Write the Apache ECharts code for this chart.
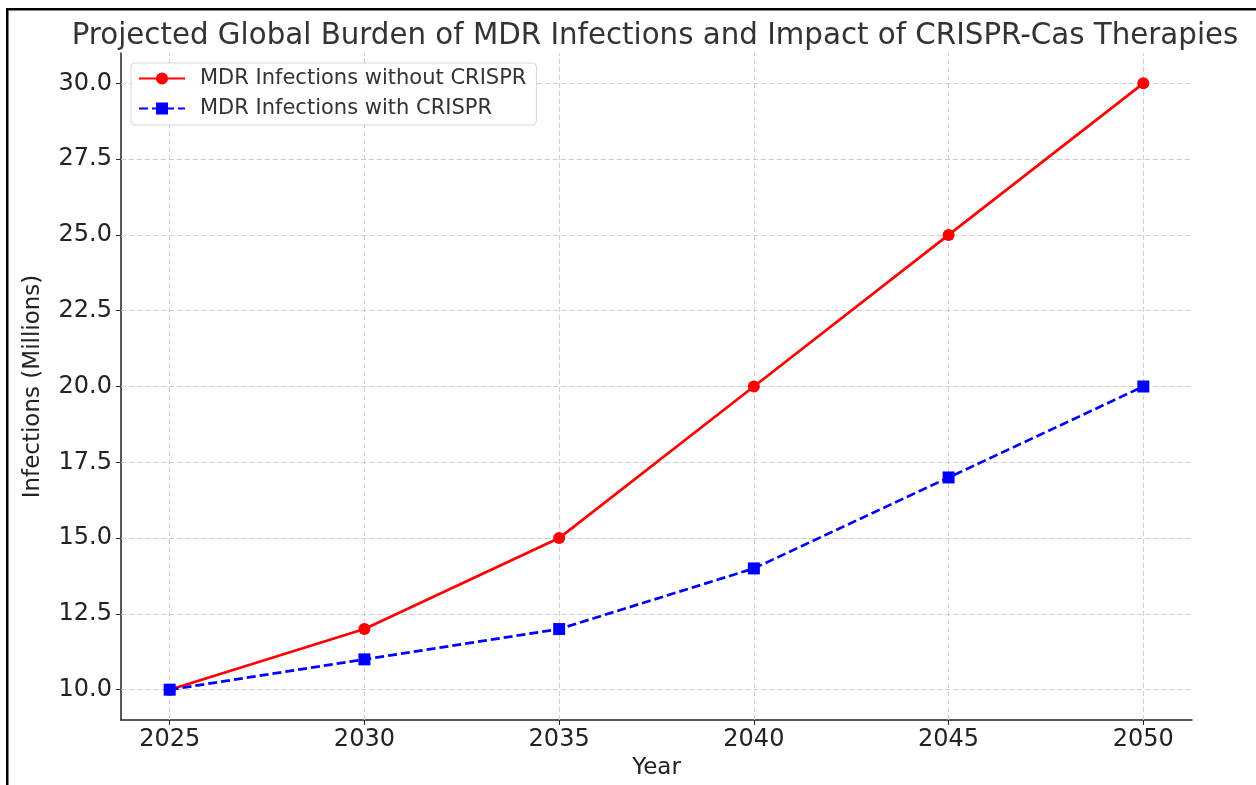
<!DOCTYPE html>
<html>
<head>
<meta charset="utf-8">
<title>MDR Infections and CRISPR-Cas</title>
<script src="https://cdn.jsdelivr.net/npm/echarts@6/dist/echarts.min.js"></script>
<style>
  html, body { margin: 0; padding: 0; background: #fff; }
  #chart { width: 1256px; height: 785px; }
</style>
</head>
<body>
<div id="chart"></div>
<script>
'use strict';

// data
var years = [2025, 2030, 2035, 2040, 2045, 2050];
var withoutCrispr = [10, 12, 15, 20, 25, 30];
var withCrispr = [10, 11, 12, 14, 17, 20];
var yTicks = [10.0, 12.5, 15.0, 17.5, 20.0, 22.5, 25.0, 27.5, 30.0];
var xTicks = [2025, 2030, 2035, 2040, 2045, 2050];

var font = 'DejaVu Sans';

function pairs(xs, ys) {
    var out = [];
    for (var i = 0; i < xs.length; i++) {
        out.push([xs[i], ys[i]]);
    }
    return out;
}

var myChart = echarts.init(document.getElementById('chart'), null, {renderer: 'canvas'});

var option = {
    backgroundColor: '#fff',
    animation: false,
    title: {
        text: 'Projected Global Burden of MDR Infections and Impact of CRISPR-Cas Therapies',
        left: 650,
        top: 17,
        textAlign: 'center',
        textStyle: {
            fontFamily: font,
            fontSize: 29.3,
            fontWeight: 'normal',
            color: '#333'
        }
    },
    legend: {
        left: 131,
        top: 63,
        orient: 'vertical',
        itemWidth: 46,
        itemHeight: 15,
        itemGap: 9,
        padding: [5, 10, 6, 7],
        borderColor: '#d6d6d6',
        borderWidth: 1,
        borderRadius: 4,
        backgroundColor: 'rgba(255,255,255,0.8)',
        textStyle: {
            fontFamily: font,
            fontSize: 21,
            color: '#333',
            padding: [0, 0, 0, 10]
        },
        data: ['MDR Infections without CRISPR', 'MDR Infections with CRISPR']
    },
    grid: {
        left: 121,
        right: 64,
        top: 53,
        bottom: 65,
        outerBoundsMode: 'none'
    },
    xAxis: {
        type: 'value',
        min: 2023.75,
        max: 2051.25,
        name: 'Year',
        nameLocation: 'middle',
        nameGap: 34,
        nameTextStyle: {fontFamily: font, fontSize: 23, color: '#222'},
        axisLine: {show: true, lineStyle: {color: '#222', width: 1.5}},
        axisTick: {show: true, length: 5, customValues: xTicks, lineStyle: {color: '#222'}},
        axisLabel: {
            customValues: xTicks,
            fontFamily: font,
            fontSize: 24,
            color: '#222',
            margin: 8,
            formatter: function (v) { return String(v); }
        },
        splitLine: {show: false}
    },
    yAxis: {
        type: 'value',
        min: 9,
        max: 31,
        name: 'Infections (Millions)',
        nameLocation: 'middle',
        nameGap: 76,
        nameTextStyle: {fontFamily: font, fontSize: 23, color: '#222'},
        axisLine: {show: true, lineStyle: {color: '#222', width: 1.5}},
        axisTick: {show: true, length: 5, customValues: yTicks, lineStyle: {color: '#222'}},
        axisLabel: {
            customValues: yTicks,
            fontFamily: font,
            fontSize: 24,
            color: '#222',
            margin: 9,
            formatter: function (v) { return v.toFixed(1); }
        },
        splitLine: {show: false}
    },
    series: [
        {
            name: 'MDR Infections without CRISPR',
            type: 'line',
            data: pairs(years, withoutCrispr),
            symbol: 'circle',
            symbolSize: 12,
            color: '#ff0000',
            lineStyle: {color: '#ff0000', width: 2.7},
            z: 3,
            markLine: {
                silent: true,
                symbol: 'none',
                label: {show: false},
                lineStyle: {color: '#cfcfcf', type: [5, 3], width: 1},
                data: yTicks.map(function (v) { return {yAxis: v}; })
                    .concat(xTicks.map(function (v) { return {xAxis: v}; })),
                z: 1
            }
        },
        {
            name: 'MDR Infections with CRISPR',
            type: 'line',
            data: pairs(years, withCrispr),
            symbol: 'rect',
            symbolSize: 12,
            color: '#0000ff',
            lineStyle: {color: '#0000ff', width: 2.7, type: [9, 4]},
            z: 4
        }
    ],
    graphic: [
        {type: 'rect', shape: {x: 6, y: 8, width: 1250, height: 2.5}, style: {fill: '#000'}},
        {type: 'rect', shape: {x: 6, y: 8, width: 2.5, height: 777}, style: {fill: '#000'}}
    ]
};

myChart.setOption(option);
</script>
</body>
</html>
